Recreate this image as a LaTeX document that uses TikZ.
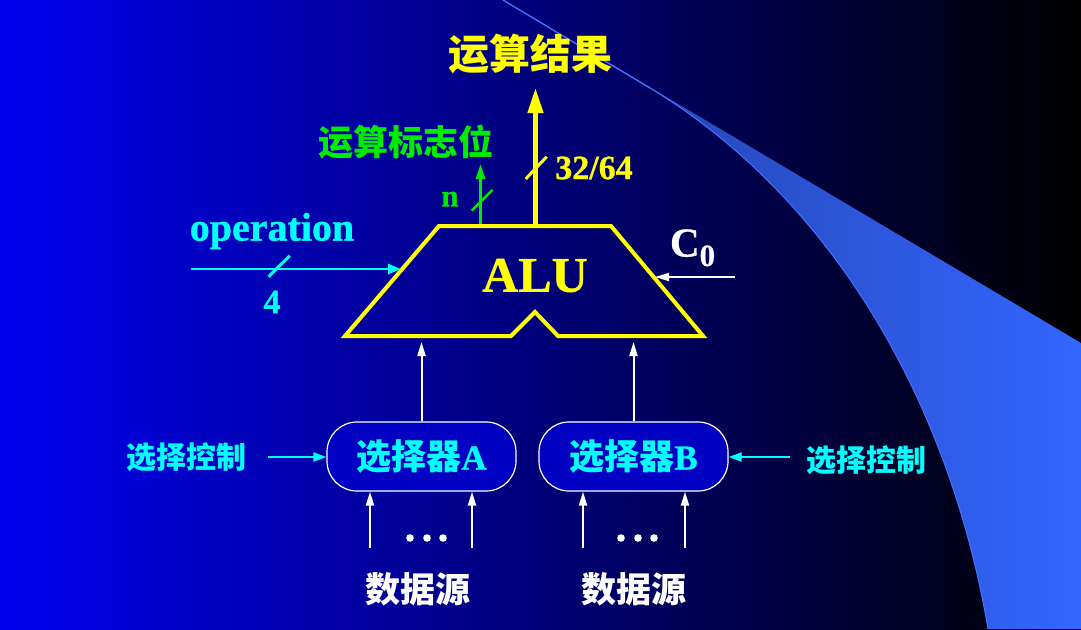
\documentclass[tikz,border=0pt]{standalone}
\usepackage{fontspec}
\setmainfont{Liberation Serif}[BoldFeatures={FakeBold=0.8}]
\newfontfamily\cjk{Noto Sans CJK SC}
\usetikzlibrary{arrows.meta}

\definecolor{bgL}{RGB}{0,0,240}
\definecolor{bgM}{RGB}{0,0,185}
\definecolor{swA}{RGB}{35,60,160}
\definecolor{swB}{RGB}{48,92,225}
\definecolor{swC}{RGB}{51,102,255}
\definecolor{swEdge}{RGB}{70,115,255}
\definecolor{aluyel}{RGB}{255,255,0}
\definecolor{flaggrn}{RGB}{0,235,0}
\definecolor{opcyan}{RGB}{0,255,255}
\definecolor{selfill}{RGB}{0,0,195}

\newcommand{\fsz}[1]{\fontsize{#1}{#1}\selectfont}

\tikzset{
  lbl/.style={inner sep=0pt, outer sep=0pt},
  cjklbl/.style={lbl, font=\cjk\bfseries\fsz{#1}},
  serlbl/.style={lbl, font=\bfseries\fsz{#1}},
  alubody/.style={draw=aluyel, line width=4pt, line join=miter},
  yelarrow/.style={draw=aluyel, line width=4.5pt, -{Triangle[length=25pt,width=15pt]}},
  grnarrow/.style={draw=flaggrn, line width=2.7pt, -{Triangle[length=15pt,width=9pt]}},
  cyanarrow/.style={draw=opcyan, line width=2.6pt, -{Triangle[length=13pt,width=10pt]}},
  ctlarrow/.style={draw=opcyan, line width=2pt, -{Triangle[length=13pt,width=9pt]}},
  warrow/.style={draw=white, line width=2pt, -{Triangle[length=14pt,width=8pt]}},
  buswidth/.style={line width=3pt},
  selbox/.style={draw=white, line width=1.2pt, fill=selfill, rounded corners=30pt,
    minimum width=189pt, minimum height=69pt, inner sep=0pt,
    text=opcyan, font=\bfseries\fsz{35}},
}

\begin{document}
\begin{tikzpicture}[x=1pt,y=-1pt]
\useasboundingbox (0,0) rectangle (1081,629);

% backdrop
\shade[left color=bgL, middle color=bgM, right color=black] (0,0) rectangle (1081,629);
\shade[left color=swA, middle color=swB, right color=swC]
  (503,0) -- (1081,343) -- (1081,629) -- (988,629)
  .. controls (949,399) and (830,197) .. (650,88) -- cycle;
\draw[swEdge, line width=1pt] (650,88) .. controls (830,197) and (949,399) .. (988,629);
\draw[swEdge, line width=1.3pt] (503,0) -- (650,88);

% ALU body
\coordinate (aTL) at (439,226);
\coordinate (aTR) at (611,226);
\coordinate (aBR) at (703,336);
\coordinate (aN2) at (558,336);
\coordinate (aNP) at (535,312);
\coordinate (aN1) at (511,336);
\coordinate (aBL) at (345,336);
\draw[alubody] (aTL) -- (aTR) -- (aBR) -- (aN2) -- (aNP) -- (aN1) -- (aBL) -- cycle;
\node[serlbl=50, text=aluyel] (alu) at (535,275.5) {ALU};

% result bus
\node[cjklbl=41, text=aluyel] (res) at (530,54) {运算结果};
\coordinate (resOut) at (535.5,224);
\coordinate (resTip) at (535.5,88);
\draw[yelarrow] (resOut) -- (resTip);
\draw[aluyel, buswidth] (525.7,179) -- (546.7,156.7);
\node[serlbl=34, text=aluyel] (reswidth) at (594,168) {32/64};

% flag bus
\node[cjklbl=35, text=flaggrn] (flag) at (405.5,142.5) {运算标志位};
\coordinate (flagOut) at (480.5,224);
\coordinate (flagTip) at (480.5,164);
\draw[grnarrow] (flagOut) -- (flagTip);
\draw[flaggrn, line width=2.5pt] (471.7,210.7) -- (492.3,190);
\node[serlbl=31, text=flaggrn] (flagwidth) at (450,199) {n};

% operation input
\node[serlbl=40, text=opcyan] (op) at (272,231) {operation};
\coordinate (opIn) at (191,269);
\coordinate (opTip) at (401,269);
\draw[cyanarrow] (opIn) -- (opTip);
\draw[opcyan, buswidth] (268.6,276.7) -- (289.7,255.7);
\node[serlbl=34, text=opcyan] (opwidth) at (272,302) {4};

% carry input
\node[serlbl=41, text=white, anchor=base west] (c0) at (670,256.5)
  {C\raisebox{-9.5pt}{\fsz{31}0}};
\coordinate (c0In) at (735,277);
\coordinate (c0Tip) at (655,277);
\draw[warrow] (c0In) -- (c0Tip);

% selectors
\node[selbox] (selA) at (421.5,456.5) {{\cjk 选择器}A};
\node[selbox] (selB) at (633.5,456.5) {{\cjk 选择器}B};
\coordinate (aInA) at (421.5,342);
\coordinate (aInB) at (633.5,342);
\draw[warrow] (selA.north) -- (aInA);
\draw[warrow] (selB.north) -- (aInB);

% selection control
\node[cjklbl=30, text=opcyan] (ctlA) at (186,457) {选择控制};
\node[cjklbl=30, text=opcyan] (ctlB) at (866,460) {选择控制};
\coordinate (ctlAout) at (268,457);
\coordinate (ctlBout) at (790,457);
\draw[ctlarrow] (ctlAout) -- (ctlAout -| selA.west);
\draw[ctlarrow] (ctlBout) -- (ctlBout -| selB.east);

% data sources
\node[cjklbl=35, text=white] (srcA) at (418,589) {数据源};
\node[cjklbl=35, text=white] (srcB) at (634,589) {数据源};
\coordinate (srcA1) at (370,548);
\coordinate (srcA2) at (472,548);
\coordinate (srcB1) at (583,548);
\coordinate (srcB2) at (685,548);
\foreach \s in {srcA1,srcA2} \draw[warrow] (\s) -- (\s |- selA.south);
\foreach \s in {srcB1,srcB2} \draw[warrow] (\s) -- (\s |- selB.south);
\foreach \x in {410,427,443,621,638,654} \fill[white] (\x,538) circle (3.8);
\end{tikzpicture}
\end{document}
